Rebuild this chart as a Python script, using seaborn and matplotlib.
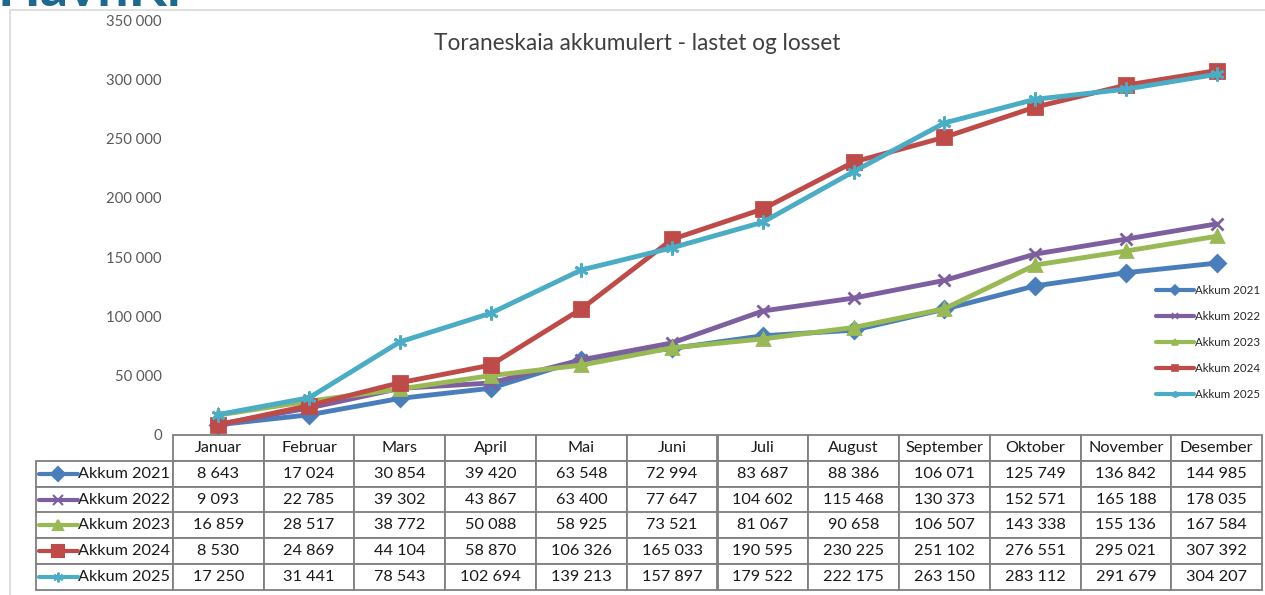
import pandas as pd
import matplotlib.pyplot as plt
import seaborn as sns
from matplotlib.lines import Line2D

# Data
months = ['Januar', 'Februar', 'Mars', 'April', 'Mai', 'Juni', 'Juli',
          'August', 'September', 'Oktober', 'November', 'Desember']
series_names = ['Akkum 2021', 'Akkum 2022', 'Akkum 2023', 'Akkum 2024', 'Akkum 2025']
akkum_2021 = [8643, 17024, 30854, 39420, 63548, 72994, 83687, 88386, 106071, 125749, 136842, 144985]
akkum_2022 = [9093, 22785, 39302, 43867, 63400, 77647, 104602, 115468, 130373, 152571, 165188, 178035]
akkum_2023 = [16859, 28517, 38772, 50088, 58925, 73521, 81067, 90658, 106507, 143338, 155136, 167584]
akkum_2024 = [8530, 24869, 44104, 58870, 106326, 165033, 190595, 230225, 251102, 276551, 295021, 307392]
akkum_2025 = [17250, 31441, 78543, 102694, 139213, 157897, 179522, 222175, 263150, 283112, 291679, 304207]
yticks = [0, 50000, 100000, 150000, 200000, 250000, 300000, 350000]

colors = ['#4A7EBB', '#7D5FA0', '#98B954', '#BE4B48', '#4AACC5']
markers = ['D', 'x', '^', 's', (6, 2, 0)]
msizes = [8, 9, 9, 10, 10]

all_values = [akkum_2021, akkum_2022, akkum_2023, akkum_2024, akkum_2025]
df = pd.DataFrame({
    'month': months * len(series_names),
    'serie': [n for n in series_names for _ in months],
    'value': [v for vals in all_values for v in vals],
})

def fmt(v):
    return f'{v:,}'.replace(',', ' ')

sns.set_style('white')
plt.rcParams['font.family'] = ['Lato', 'DejaVu Sans']

fig = plt.figure(figsize=(12.65, 5.95), dpi=100)
W, H = 1265, 595
ax = fig.add_axes([173 / W, (H - 435) / H, 1089 / W, 415 / H])

sns.lineplot(data=df, x='month', y='value', hue='serie',
             palette=dict(zip(series_names, colors)),
             sort=False, linewidth=3.5, legend=False, ax=ax)

# Excel style markers, set per line (seaborn can't mix filled and line markers)
for line, c, m, ms in zip(ax.lines, colors, markers, msizes):
    line.set_marker(m)
    line.set_markersize(ms)
    line.set_markeredgecolor(c)
    line.set_markerfacecolor(c)
    line.set_markeredgewidth(2)

ax.set_xlim(-0.5, len(months) - 0.5)
ax.set_ylim(0, 350000)
ax.set_yticks(yticks)
ax.set_yticklabels([fmt(t) for t in yticks], color='#595959', fontsize=10.7)
ax.set_xticks([])
ax.set_xlabel('')
ax.set_ylabel('')
ax.tick_params(axis='y', length=0, pad=8)
for s in ax.spines.values():
    s.set_visible(False)

# Legend on the right
handles = [Line2D([], [], color=c, marker=m, lw=3, ms=5, mew=1.2, mec=c, mfc=c)
           for c, m in zip(colors, markers)]
ax.legend(handles, series_names, loc='center left', bbox_to_anchor=(0.893, 0.222),
          frameon=False, fontsize=8.3, labelspacing=1.3, handlelength=3.3,
          handletextpad=0.1)

# Title
fig.text(637 / W, 1 - 44 / H, 'Toraneskaia akkumulert - lastet og losset',
         ha='center', va='center', fontsize=16.3, color='#404040')

# Data table under the chart
label_w = 137
col_w = 1089 / 12
cell_text = [[name] + [fmt(v) for v in vals] for name, vals in zip(series_names, all_values)]
tbl = ax.table(cellText=cell_text, colLabels=[''] + months,
               colWidths=[label_w] + [col_w] * 12, cellLoc='center',
               bbox=[-label_w / 1089, -155 / 415, (label_w + 1089) / 1089, 155 / 415])
tbl.auto_set_font_size(False)
tbl.set_fontsize(11.7)
for (r, c), cell in tbl.get_celld().items():
    cell.set_edgecolor('#7F7F7F')
    cell.set_linewidth(1.3)
    cell.get_text().set_color('#1a1a1a')
    if r == 0 and c == 0:
        cell.visible_edges = ''
    elif c == 0:
        cell.get_text().set_ha('right')
        cell.PAD = 0.02
        cell._loc = 'right'

# legend keys inside the row-label cells
row_h = 155 / 415 / 6
for k, (c, m) in enumerate(zip(colors, markers)):
    yk = -(k + 1.5) * row_h
    x0, x1 = (39 - 173) / 1089, (78 - 173) / 1089
    ax.plot([x0, x1], [yk, yk], transform=ax.transAxes, clip_on=False, color=c, lw=3)
    ax.plot([(x0 + x1) / 2], [yk], transform=ax.transAxes, clip_on=False, color=c,
            marker=m, ms=9 if m == 's' else 7, mec=c, mfc=c, mew=1.5)

# chart frame
fig.add_artist(Line2D([10 / W, 1], [1 - 10 / H, 1 - 10 / H], color='#D9D9D9', lw=1.2))
fig.add_artist(Line2D([10 / W, 10 / W], [0, 1 - 10 / H], color='#D9D9D9', lw=1.2))

# partly cropped logo text at the top (cut off in the original as well)
fig.text(-2 / W, 1 - 6 / H, 'HavnKi', ha='left', va='baseline', fontsize=40,
         fontweight='bold', color='#1E6A8E')

fig.savefig('out.png', dpi=100)
